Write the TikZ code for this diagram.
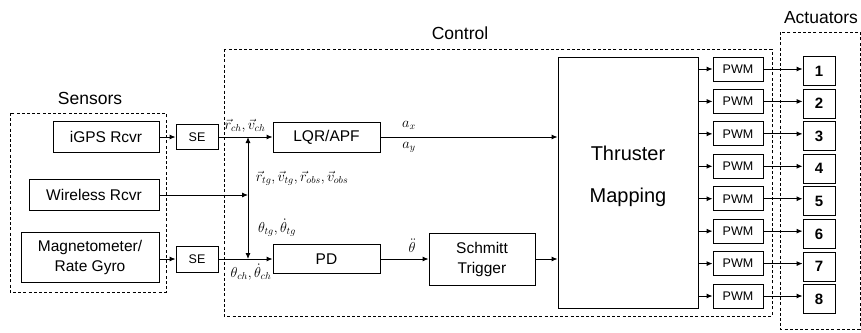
\documentclass[tikz,border=0pt]{standalone}
\usepackage{fontspec}
\setmainfont{Liberation Sans}
\usetikzlibrary{arrows.meta}
\begin{document}
\begin{tikzpicture}[x=1pt,y=-1pt,
  box/.style={draw, line width=0.9pt, inner sep=0pt, font=\fontsize{15.5}{18}\selectfont, align=center},
  small/.style={box, font=\fontsize{12.5}{14}\selectfont},
  act/.style={box, minimum width=32pt, minimum height=29pt, font=\fontsize{15}{18}\selectfont\bfseries},
  grp/.style={draw, line width=0.9pt, dash pattern=on 3pt off 2.2pt},
  title/.style={font=\fontsize{17.5}{20}\selectfont},
  lab/.style={inner sep=0pt, font=\fontsize{14}{16}\selectfont},
  arr/.style={line width=0.9pt, -{Latex[length=6pt,width=5pt]}},
  ln/.style={line width=0.9pt}]
\useasboundingbox (0,0) rectangle (861,332);

% group frames
\draw[grp] (10,113) rectangle (166,292);
\draw[grp] (224,49) rectangle (772,316);
\draw[grp] (780,32) rectangle (860,329);
\node[title] (tsen) at (90,98) {Sensors};
\node[title] (tcon) at (460,33) {Control};
\node[title] (tact) at (821,18) {Actuators};

% sensors
\node[box, minimum width=106pt, minimum height=31pt] (gps) at (106,136.5) {iGPS Rcvr};
\node[box, minimum width=130pt, minimum height=31pt] (wl) at (94,195) {Wireless Rcvr};
\node[box, minimum width=138pt, minimum height=50pt, font=\fontsize{15.5}{20}\selectfont] (mag) at (90,257) {Magnetometer/\\Rate Gyro};

\node[small, minimum width=42pt, minimum height=25pt] (se1) at (197,137) {SE};
\node[small, minimum width=42pt, minimum height=26pt] (se2) at (197,259) {SE};

% control blocks
\node[box, minimum width=107pt, minimum height=30pt] (lqr) at (326.5,137) {LQR/APF};
\node[box, minimum width=107pt, minimum height=29pt] (pd) at (326.5,259) {PD};
\node[box, minimum width=106pt, minimum height=52pt, font=\fontsize{15.5}{20}\selectfont] (sch) at (482,259) {Schmitt\\Trigger};
\node[box, minimum width=140pt, minimum height=251pt] (thr) at (628,182.5) {};
\node[inner sep=0pt, align=center, font=\fontsize{20}{42}\selectfont] (thrt) at (628,176) {Thruster\\Mapping};

% junctions
\coordinate (jt) at (248,137);
\coordinate (jm) at (248,195);
\coordinate (jb) at (248,259);

\draw[arr] (gps.east |- se1.west) -- (se1.west);
\draw[arr] (mag.east |- se2.west) -- (se2.west);
\draw[arr] (se1.east) -- (lqr.west);
\draw[arr] (se2.east) -- (pd.west);
\draw[arr] (wl.east) -- (jm);
\draw[arr] (jm) -- (jt);
\draw[arr] (jm) -- (jb);
\draw[arr] (lqr.east) -- (lqr.east -| thr.west);
\draw[arr] (pd.east) -- (sch.west);
\draw[arr] (sch.east) -- (sch.east -| thr.west);

% labels
\node[lab] (l1) at (245,126) {$\vec r_{ch},\vec v_{ch}$};
\node[lab] (l2) at (302,178) {$\vec r_{tg},\vec v_{tg},\vec r_{obs},\vec v_{obs}$};
\node[lab] (l3) at (277,228) {$\theta_{tg},\dot\theta_{tg}$};
\node[lab] (l4) at (251,272) {$\theta_{ch},\dot\theta_{ch}$};
\node[lab] (l5) at (409,125) {$a_x$};
\node[lab] (l6) at (409,147) {$a_y$};
\node[lab] (l7) at (412,246) {$\ddot\theta$};

% PWM and actuators
\foreach \i in {1,...,8}{
  \pgfmathsetmacro{\yy}{69+32.43*(\i-1)}
  \pgfmathsetmacro{\ya}{71+32.6*(\i-1)}
  \node[small, minimum width=50pt, minimum height=24pt] (pwm\i) at (738,\yy) {PWM};
  \node[act] (a\i) at (819,\ya) {\i};
  \draw[arr] (thr.east |- pwm\i.west) -- (pwm\i.west);
  \draw[arr] (pwm\i.east) -- (pwm\i.east -| a\i.west);
}
\end{tikzpicture}
\end{document}
